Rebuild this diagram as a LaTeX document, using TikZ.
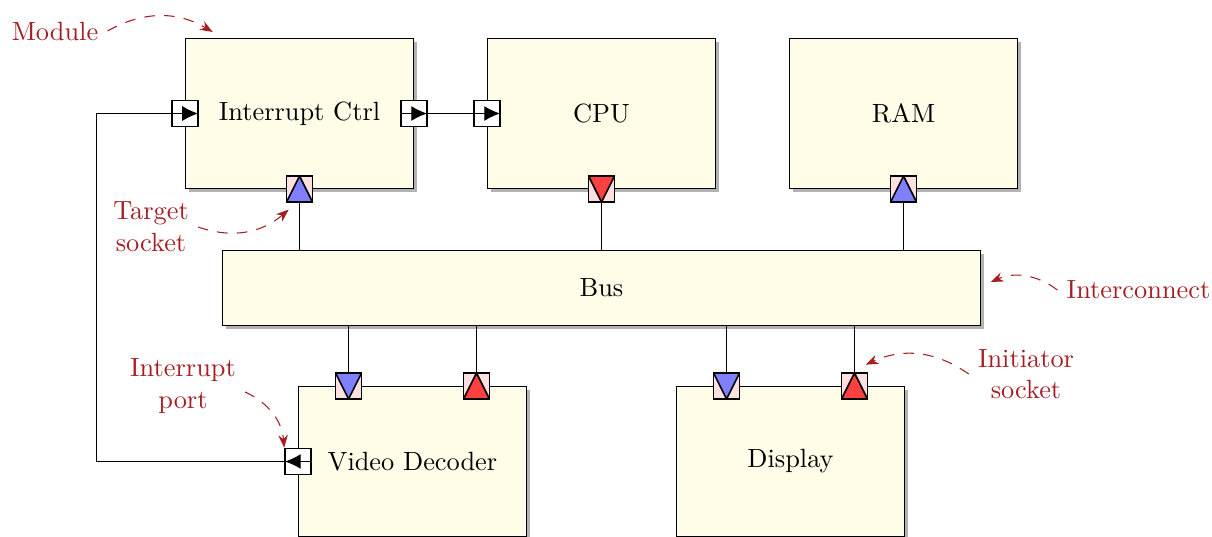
\documentclass[tikz,border=0pt]{standalone}
\usepackage{xcolor}
\usepackage{tikz}
\usetikzlibrary{shadows,arrows.meta}

\definecolor{modfill}{RGB}{255,252,232}
\definecolor{annotred}{RGB}{165,30,35}
\definecolor{sockfill}{RGB}{255,224,224}

\begin{document}
% one unit = one pixel of the 1212x536 layout
\begin{tikzpicture}[x=0.0133333cm, y=0.0133333cm,
  module/.style={draw, fill=modfill, minimum width=3.04cm, minimum height=2cm,
    drop shadow={shadow xshift=0.45mm, shadow yshift=-0.45mm, fill=black!30, opacity=1}},
  socket/.style={draw, semithick, fill=sockfill, minimum size=0.34667cm, inner sep=0pt},
  tri up/.style={path picture={\draw[semithick, fill=#1] (path picture bounding box.south west)
    -- (path picture bounding box.north) -- (path picture bounding box.south east) -- cycle;}},
  tri down/.style={path picture={\draw[semithick, fill=#1] (path picture bounding box.north west)
    -- (path picture bounding box.south) -- (path picture bounding box.north east) -- cycle;}},
  target up/.style={socket, tri up=blue!50},
  target down/.style={socket, tri down=blue!50},
  init up/.style={socket, tri up=red!75},
  init down/.style={socket, tri down=red!75},
  port/.style={draw, semithick, fill=white, minimum size=0.34667cm, inner sep=0pt},
  portarrow/.style={-{Latex[length=2.1mm,width=2mm]}, shorten >=0.3pt},
  annot/.style={text=annotred, align=center},
  annotarrow/.style={annotred, dash pattern=on 4pt off 3.5pt, -{Stealth[length=1.7mm]}}
]
\useasboundingbox (0,0) rectangle (1212,-536);

% Modules
\node[module] (ic) at (299.5,-113.5) {Interrupt Ctrl};
\node[module] (cpu) at (601.5,-113.5) {CPU};
\node[module] (ram) at (903.5,-113.5) {RAM};
\node[module, minimum width=10.1067cm, minimum height=1cm] (bus) at (601.5,-288) {Bus};
\node[module] (vd) at (412.5,-461.5) {Video Decoder};
\node[module] (disp) at (790.5,-461.5) {Display};

% Sockets on the upper modules
\node[target up] (ic-s) at (ic.south) {};
\node[init down] (cpu-s) at (cpu.south) {};
\node[target up] (ram-s) at (ram.south) {};
\foreach \m in {ic, cpu, ram}
  \draw (\m-s.south) -- (\m-s.south |- bus.north);

% Sockets on the lower modules
\foreach \m in {vd, disp} {
  \node[target down] (\m-t) at ([xshift=-0.85333cm]\m.north) {};
  \node[init up] (\m-i) at ([xshift=0.85333cm]\m.north) {};
  \draw (\m-t.north) -- (\m-t.north |- bus.south);
  \draw (\m-i.north) -- (\m-i.north |- bus.south);
}

% Ports and interrupt wires
\node[port] (ic-in) at (ic.west) {};
\node[port] (ic-out) at (ic.east) {};
\node[port] (cpu-in) at (cpu.west) {};
\node[port] (vd-irq) at (vd.west) {};
\coordinate (irqbend) at (96.5,-300);
\draw (vd-irq.west) -| (irqbend) |- (ic-in.west);
\draw (ic-out.east) -- (cpu-in.west);
\draw[portarrow] (ic-in.west) -- (ic-in.east);
\draw[portarrow] (ic-out.west) -- (ic-out.east);
\draw[portarrow] (cpu-in.west) -- (cpu-in.east);
\draw[portarrow] (vd-irq.east) -- (vd-irq.west);

% Annotations
\node[annot] (lbl-mod) at (55,-31) {Module};
\node[annot] (lbl-tsock) at (151,-227) {Target\\socket};
\node[annot] (lbl-bus) at (1138.5,-290) {Interconnect};
\node[annot] (lbl-isock) at (1026,-374) {Initiator\\socket};
\node[annot] (lbl-irq) at (183,-386) {Interrupt\\port};
\draw[annotarrow] (lbl-mod.east) to[bend left] ([xshift=0.37cm,yshift=0.08cm]ic.north west);
\draw[annotarrow] (lbl-tsock.east) to[bend right] ([xshift=0.04cm,yshift=-0.09cm]ic-s.south west);
\draw[annotarrow] (lbl-bus.west) to[bend right] ([xshift=0.13cm,yshift=0.08cm]bus.east);
\draw[annotarrow] (lbl-isock.west) to[bend right] ([xshift=0.15cm,yshift=0.1cm]disp-i.north);
\draw[annotarrow] ([yshift=-0.08cm]lbl-irq.east) to[bend left] (vd-irq.north west);
\end{tikzpicture}
\end{document}
